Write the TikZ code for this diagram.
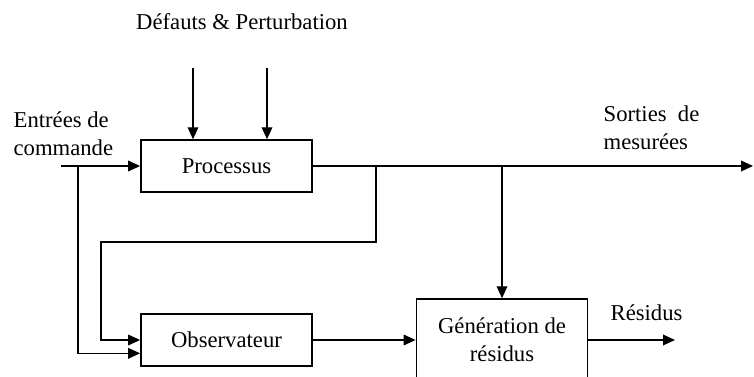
\documentclass[tikz,border=0pt]{standalone}
\usepackage{fontspec}
\setmainfont{Liberation Serif}
\usetikzlibrary{arrows.meta}
\tikzset{every picture/.style={line width=1pt}}
\tikzset{
  blockbox/.style={draw, line width=1.1pt, minimum width=128.5pt, minimum height=39pt, inner sep=0pt, font=\fontsize{17}{21}\selectfont},
  labeltext/.style={inner sep=0pt, font=\fontsize{17}{21}\selectfont},
  sig/.style={-{Triangle[length=9pt,width=8pt]}}
}

\begin{document}
\begin{tikzpicture}[x=0.75pt,y=0.75pt,yscale=-1,xscale=1]
%set diagram frame at 754 x 377
\clip (0,0) rectangle (754,377);

% Blocks
\node [blockbox] (proc) at (226.5,166) {Processus};
\node [blockbox] (obs) at (226.5,340) {Observateur};
\node [blockbox, minimum height=61.5pt, align=center] (gen) at (502,340) {Génération de\\résidus};

% Free ends and branch points
\coordinate (cmd) at (61,166);
\coordinate (cmdsplit) at (78,166);
\coordinate (mes) at (753,166);
\coordinate (messplit1) at (376,166);
\coordinate (messplit2) at (502,166);
\coordinate (loop) at (101,242);
\coordinate (def1) at (193,68);
\coordinate (def2) at (267,68);
\coordinate (res) at (675,340);

%Straight Lines
\draw [sig] (def1) -- (def1 |- proc.north);
\draw [sig] (def2) -- (def2 |- proc.north);
\draw [sig] (cmd) -- (proc);
\draw [sig] (cmdsplit) |- ([yshift=10pt]obs.west);
\draw [sig] (proc) -- (mes);
\draw [sig] (messplit1) |- (loop) |- (obs.west);
\draw [sig] (messplit2) -- (gen.north);
\draw [sig] (obs) -- (gen);
\draw [sig] (gen) -- (res);

% Text Node
\node [labeltext] (deflabel) at (242,22) {Défauts \& Perturbation};
% Text Node
\node [labeltext, anchor=west, align=left] (cmdlabel) at (13,134) {Entrées de\\commande};
% Text Node
\node [labeltext, anchor=west, align=left] (meslabel) at (603,128) {Sorties~~de\\mesurées};
% Text Node
\node [labeltext, anchor=west] (reslabel) at (610,313) {Résidus};

\end{tikzpicture}
\end{document}
